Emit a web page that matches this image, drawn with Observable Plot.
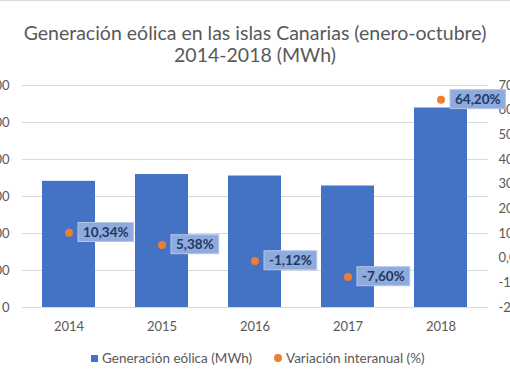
<!DOCTYPE html>
<html><head><meta charset="utf-8">
<script src="https://cdn.jsdelivr.net/npm/d3@7"></script>
<script src="https://cdn.jsdelivr.net/npm/@observablehq/plot@0.6"></script>
<style>
body{margin:0;background:#fff;font-family:Lato, "Noto Sans", sans-serif;}
#chart{width:510px;height:382px;position:relative;overflow:hidden;background:#fff;}
#topline{position:absolute;left:0;top:0;width:510px;height:1px;background:#d9d9d9;}
#title{position:absolute;left:0;top:22px;width:510px;text-align:center;color:#595959;font-size:19.5px;line-height:22px;}
#plot{position:absolute;left:0;top:70px;}
#legend{position:absolute;left:0;top:350px;width:510px;height:16px;font-size:13.5px;color:#595959;}
.li{position:absolute;top:0;display:flex;align-items:center;height:16px;white-space:nowrap;}
.sq{width:7px;height:7px;background:#4472C4;margin-right:4px;}
.ci{width:8px;height:8px;border-radius:50%;background:#ED7D31;margin-right:4px;}
</style></head><body>
<div id="chart">
<div id="topline"></div>
<div id="title">Generación&nbsp;eólica en las islas Canarias (enero-octubre)<br>2014-2018 (MWh)</div>
<div id="plot"></div>
<div id="legend">
<div class="li" style="left:91px"><div class="sq"></div><span id="l1"></span></div>
<div class="li" style="left:274px"><div class="ci"></div><span id="l2"></span></div>
</div>
</div>
<script>
const years = ["2014", "2015", "2016", "2017", "2018"];
const generacion = [341000, 359400, 355400, 328400, 539200];
const variacion = [10.34, 5.38, -1.12, -7.60, 64.20];
const leftTicks = [0, 100000, 200000, 300000, 400000, 500000, 600000];
const rightTicks = [-20, -10, 0, 10, 20, 30, 40, 50, 60, 70];
const seriesNames = ["Generación eólica (MWh)", "Variación interanual (%)"];

document.getElementById("l1").textContent = seriesNames[0];
document.getElementById("l2").textContent = seriesNames[1];

const pctMin = rightTicks[0], pctMax = rightTicks[rightTicks.length - 1];
const genMax = leftTicks[leftTicks.length - 1];
const toLeft = p => (p - pctMin) / (pctMax - pctMin) * genMax;
const fromLeft = v => Math.round(v / genMax * (pctMax - pctMin) + pctMin);
const fmtPct = v => v.toFixed(2).replace(".", ",") + "%";
const fmtGen = v => d3.format(",")(v).replace(/,/g, ".");
const data = years.map((year, i) => ({year, gen: generacion[i], pct: variacion[i]}));

const plot = Plot.plot({
  width: 510, height: 275,
  marginTop: 15, marginBottom: 38, marginLeft: 22, marginRight: 22,
  style: {fontFamily: "Lato, 'Noto Sans', sans-serif", fontSize: "13px", color: "#595959", background: "transparent", overflow: "visible"},
  x: {domain: years, paddingInner: 0.43, paddingOuter: 0.215, label: null},
  y: {domain: [0, genMax], label: null},
  marks: [
    Plot.gridY(leftTicks, {stroke: "#d9d9d9", strokeOpacity: 1}),
    Plot.barY(data, {x: "year", y: "gen", fill: "#4472C4"}),
    Plot.axisX({tickSize: 0, tickPadding: 14, label: null, fill: "#595959"}),
    Plot.axisY(leftTicks, {anchor: "left", tickSize: 0, tickPadding: 13, tickFormat: fmtGen, label: null}),
    Plot.axisY(rightTicks.map(toLeft), {anchor: "right", tickSize: 0, tickPadding: 10, tickFormat: v => fmtPct(fromLeft(v)), label: null}),
    Plot.dot(data, {x: "year", y: d => toLeft(d.pct), r: 4, fill: "#ED7D31"}),
    Plot.text(data, {x: "year", y: d => toLeft(d.pct), text: d => fmtPct(d.pct), textAnchor: "start", dx: 14, fill: "#203864", fontWeight: "bold", fontSize: 13.5})
  ]
});
document.getElementById("plot").appendChild(plot);

// label boxes behind the data labels
const groups = plot.querySelectorAll('g[aria-label="text"]');
const g = groups[groups.length - 1];
if (g) {
  g.querySelectorAll("text").forEach(t => {
    const b = t.getBBox();
    const r = document.createElementNS("http://www.w3.org/2000/svg", "rect");
    r.setAttribute("x", b.x - 5);
    r.setAttribute("y", b.y - 1.5);
    r.setAttribute("width", b.width + 10);
    r.setAttribute("height", b.height + 3);
    r.setAttribute("fill", "#8FAADC");
    r.setAttribute("stroke", "#B4C7E7");
    r.setAttribute("stroke-width", "1");
    const tr = t.getAttribute("transform");
    if (tr) r.setAttribute("transform", tr);
    const tx = t.getAttribute("x"), ty = t.getAttribute("y");
    g.insertBefore(r, t);
  });
}
</script>
</body></html>
